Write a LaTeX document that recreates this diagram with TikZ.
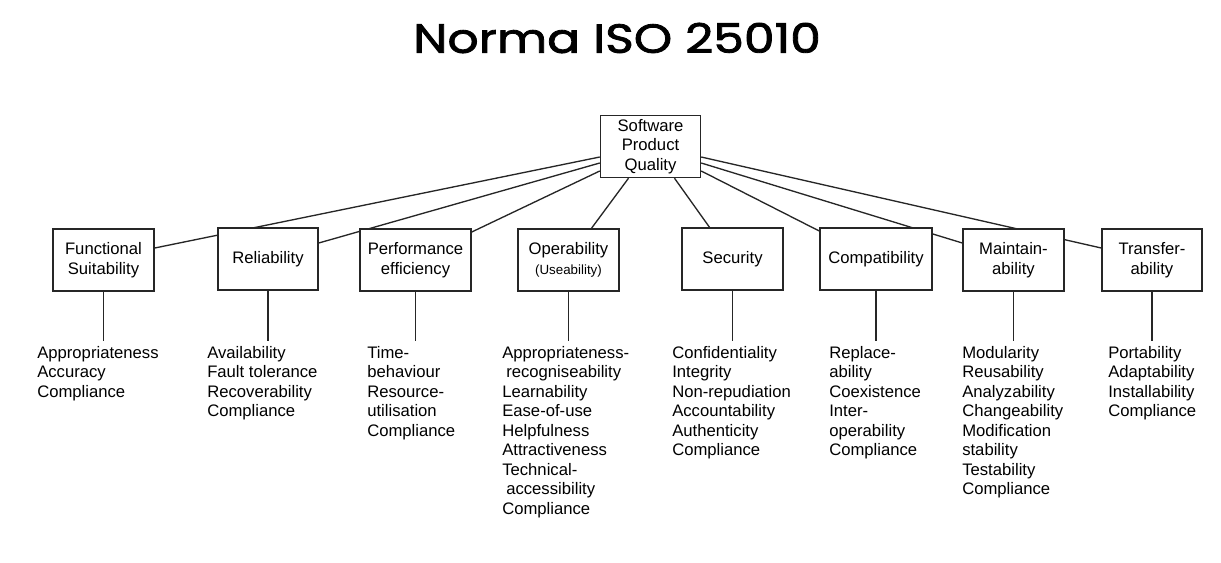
\documentclass[tikz,border=0pt]{standalone}
\usepackage{fontspec}
\setmainfont{Liberation Sans}
\newfontfamily\titlefont{Poppins}[FakeStretch=1.2,FakeBold=2]
\usetikzlibrary{calc,backgrounds}
\tikzset{
  charbox/.style={draw=black!85, line width=1.1pt, fill=white, align=center,
    minimum height=46.5pt, inner sep=2pt, font=\fontsize{12.5}{14.6}\selectfont},
  subchars/.style={anchor=north west, align=left, inner sep=0pt,
    font=\fontsize{12.5}{14.6}\selectfont},
  link/.style={draw=black!85, line width=1pt}
}
\begin{document}
\begin{tikzpicture}[x=0.75pt,y=-0.75pt]
\useasboundingbox (0,0) rectangle (1221,562);
\node[font=\titlefont\fontsize{30.5}{36}\selectfont] (title) at (617,38) {Norma ISO 25010};

\node[charbox, minimum width=75pt] (spq) at (650.5,146.5) {Software\\Product\\Quality};

\node[charbox, minimum width=75.75pt] (func) at (103.5,260) {Functional\\Suitability};
\node[charbox, minimum width=75pt] (rel) at (268,259) {Reliability};
\node[charbox, minimum width=83.25pt] (perf) at (415.5,260) {Performance\\efficiency};
\node[charbox, minimum width=75.75pt] (oper) at (568.5,260) {Operability\\{\fontsize{10}{12}\selectfont(Useability)}};
\node[charbox, minimum width=75.75pt] (sec) at (732.5,259) {Security};
\node[charbox, minimum width=84pt] (comp) at (876,259) {Compatibility};
\node[charbox, minimum width=75.75pt] (maint) at (1013.5,260) {Maintain-\\ability};
\node[charbox, minimum width=75pt] (trans) at (1152,260) {Transfer-\\ability};

\node[subchars] (funcl) at (37,346) {Appropriateness\\Accuracy\\Compliance};
\node[subchars] (rell) at (207,346) {Availability\\Fault tolerance\\Recoverability\\Compliance};
\node[subchars] (perfl) at (367,346) {Time-\\behaviour\\Resource-\\utilisation\\Compliance};
\node[subchars] (operl) at (502,346) {Appropriateness-\\\hspace{3pt}recogniseability\\Learnability\\Ease-of-use\\Helpfulness\\Attractiveness\\Technical-\\\hspace{3pt}accessibility\\Compliance};
\node[subchars] (secl) at (672,346) {Confidentiality\\Integrity\\Non-repudiation\\Accountability\\Authenticity\\Compliance};
\node[subchars] (compl) at (829,346) {Replace-\\ability\\Coexistence\\Inter-\\operability\\Compliance};
\node[subchars] (maintl) at (962,346) {Modularity\\Reusability\\Analyzability\\Changeability\\Modification\\stability\\Testability\\Compliance};
\node[subchars] (transl) at (1108,346) {Portability\\Adaptability\\Installability\\Compliance};

\begin{scope}[on background layer]
\draw[link] ($(spq.west)+(0,10.5)$) -- ($(func.east)+(0,-12)$);
\draw[link] ($(spq.west)+(0,16.5)$) -- ($(rel.east)+(0,-16)$);
\draw[link] ($(spq.west)+(0,24.5)$) -- ($(perf.east)+(0,-28)$);
\draw[link] ($(spq.south)+(-22,0)$) -- ($(oper.north)+(23,0)$);
\draw[link] ($(spq.south)+(24,0)$) -- ($(sec.north)+(-23,0)$);
\draw[link] ($(spq.east)+(0,24.5)$) -- ($(comp.west)+(0,-28)$);
\draw[link] ($(spq.east)+(0,16.5)$) -- ($(maint.west)+(0,-17)$);
\draw[link] ($(spq.east)+(0,10.5)$) -- ($(trans.west)+(0,-12)$);
\end{scope}

\foreach \c in {func,rel,perf,oper,sec,comp,maint,trans}
  \draw[link] (\c.south) -- ($(\c.south |- \c l.north)+(0,-5)$);
\end{tikzpicture}
\end{document}
